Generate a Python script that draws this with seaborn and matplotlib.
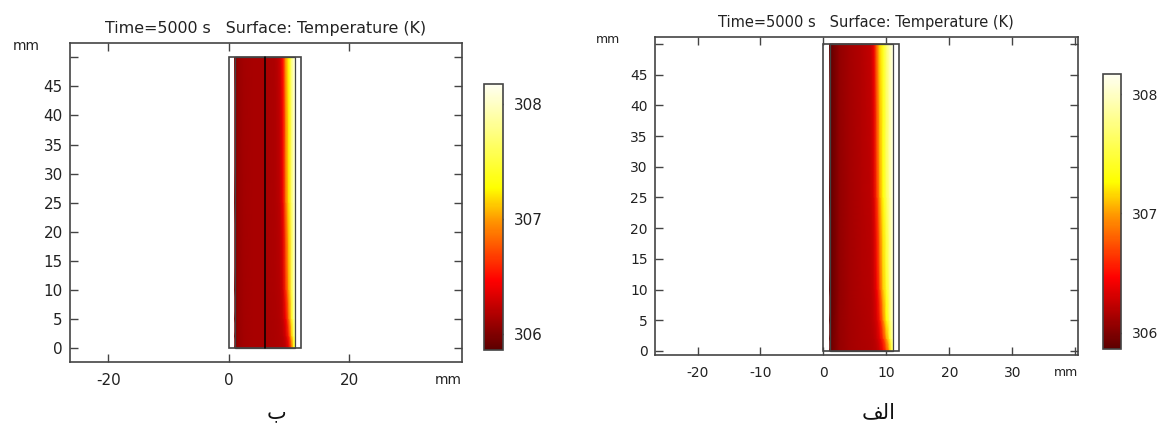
import numpy as np
import matplotlib
matplotlib.use("Agg")
import matplotlib.pyplot as plt
from matplotlib.colors import LinearSegmentedColormap
from matplotlib.patches import Rectangle
import seaborn as sns

sns.set_style("ticks")
plt.rcParams["font.family"] = ["DejaVu Sans"]

x_mm = [1, 1.5, 2.5, 4, 6, 7.5, 8, 8.5, 9, 9.5, 10, 10.5, 10.8, 11]
y_mm = [0, 2, 5, 10, 25, 50]

# panel ب (left), temperature in K, one row per y_mm
temp_b = [
    [306.00, 306.08, 306.13, 306.14, 306.14, 306.15, 306.16, 306.17, 306.18, 306.22, 306.38, 306.85, 307.25, 307.50],
    [306.00, 306.08, 306.13, 306.14, 306.14, 306.15, 306.16, 306.17, 306.20, 306.30, 306.58, 307.15, 307.55, 307.80],
    [306.00, 306.08, 306.13, 306.14, 306.14, 306.15, 306.16, 306.18, 306.24, 306.42, 306.85, 307.42, 307.78, 307.95],
    [306.00, 306.08, 306.13, 306.14, 306.14, 306.16, 306.17, 306.19, 306.29, 306.62, 307.04, 307.58, 307.88, 308.00],
    [306.00, 306.08, 306.13, 306.14, 306.14, 306.16, 306.18, 306.22, 306.39, 306.85, 307.20, 307.70, 307.95, 308.02],
    [306.00, 306.08, 306.13, 306.14, 306.14, 306.16, 306.19, 306.26, 306.50, 307.00, 307.28, 307.80, 308.00, 308.05],
]
# panel الف (right)
temp_alef = [
    [305.89, 305.96, 306.07, 306.13, 306.15, 306.17, 306.19, 306.21, 306.28, 306.42, 306.68, 307.05, 307.42, 307.65],
    [305.89, 305.96, 306.07, 306.13, 306.16, 306.18, 306.20, 306.26, 306.38, 306.62, 306.98, 307.40, 307.70, 307.88],
    [305.88, 305.95, 306.07, 306.13, 306.16, 306.19, 306.23, 306.32, 306.55, 306.90, 307.25, 307.62, 307.85, 307.97],
    [305.87, 305.94, 306.06, 306.13, 306.17, 306.20, 306.26, 306.42, 306.75, 307.12, 307.40, 307.72, 307.92, 308.02],
    [305.87, 305.94, 306.06, 306.13, 306.18, 306.22, 306.32, 306.62, 307.02, 307.30, 307.58, 307.85, 307.98, 308.08],
    [305.87, 305.94, 306.06, 306.13, 306.18, 306.24, 306.40, 306.85, 307.18, 307.40, 307.68, 307.93, 308.03, 308.12],
]

t_min, t_max = 305.86, 308.17
cbar_ticks = [306, 307, 308]
title = "Time=5000 s   Surface: Temperature (K)"

# geometry (mm)
outer_w, inner_x0, inner_x1, height = 12, 1, 11, 50
divider_x = 6  # only in panel ب

cmap = LinearSegmentedColormap.from_list(
    "thermal_light",
    [(0.0, "#5c0000"), (0.26, "#ff0000"), (0.49, "#ff9900"),
     (0.61, "#ffff00"), (1.0, "#fffff2")])

line_c = "#444444"


def draw_panel(ax, cax, temp, xlim, ylim, xticks, xlabels, fs, divider=False):
    X, Y = np.meshgrid(x_mm, y_mm)
    mesh = ax.pcolormesh(X, Y, np.array(temp), shading="gouraud", cmap=cmap,
                         vmin=t_min, vmax=t_max, zorder=1)
    ax.add_patch(Rectangle((0, 0), outer_w, height, fill=False, ec=line_c, lw=1.2, zorder=3))
    ax.add_patch(Rectangle((inner_x0, 0), inner_x1 - inner_x0, height, fill=False,
                           ec=line_c, lw=0.9, zorder=3))
    if divider:
        ax.plot([divider_x, divider_x], [0, height], color="black", lw=1.1, zorder=4)
    ax.set_xlim(*xlim)
    ax.set_ylim(*ylim)
    ax.set_xticks(xticks)
    ax.set_xticklabels(xlabels)
    ax.set_yticks(range(0, 51, 5))
    ax.set_yticklabels([str(v) for v in range(0, 46, 5)] + [""])
    ax.tick_params(direction="in", top=True, right=True, length=6, width=1,
                   color=line_c, labelsize=fs, labelcolor="#222222")
    ax.tick_params(axis="x", pad=8)
    ax.tick_params(axis="y", pad=5)
    for s in ax.spines.values():
        s.set_color(line_c)
        s.set_linewidth(1.2)
        s.set_visible(True)
    ax.set_title(title, fontsize=fs * 1.05, pad=7, color="#222222")
    ax.text(-0.11, 0.99, "mm", transform=ax.transAxes, fontsize=fs * 0.9, ha="center",
            va="center", color="#222222")
    ax.text(1.0, -0.055, "mm", transform=ax.transAxes, fontsize=fs * 0.9, ha="right",
            va="center", color="#222222")

    cb = ax.figure.colorbar(mesh, cax=cax)
    cb.set_ticks(cbar_ticks)
    cb.ax.tick_params(direction="in", left=True, right=True, length=3, width=1,
                      color="#333333", labelsize=fs, labelcolor="#222222", pad=8)
    cb.outline.set_edgecolor(line_c)
    cb.outline.set_linewidth(1.2)


fig = plt.figure(figsize=(11.6, 4.25), dpi=100)
ax_b = fig.add_axes([0.0601, 0.148, 0.338, 0.752])
cax_b = fig.add_axes([0.4172, 0.1765, 0.0166, 0.626])
ax_a = fig.add_axes([0.5644, 0.1647, 0.3647, 0.749])
cax_a = fig.add_axes([0.9511, 0.178, 0.01526, 0.648])

draw_panel(ax_b, cax_b, temp_b, (-26.4, 38.7), (-2.45, 52.56),
           [-20, 0, 20], ["-20", "0", "20"], fs=10.9, divider=True)
draw_panel(ax_a, cax_a, temp_alef, (-26.8, 40.4), (-0.66, 51.2),
           [-20, -10, 0, 10, 20, 30, 40], ["-20", "-10", "0", "10", "20", "30", ""], fs=10)

# panel captions (Persian); alef-lam-feh given in joined presentation forms, visual order
fig.text(277 / 1160, 0.03, "\u0628", fontsize=15, ha="center", va="center", color="#111111")
fig.text(879 / 1160, 0.03, "\ufed2\ufedf\ufe8d", fontsize=15, ha="center", va="center",
         color="#111111")

fig.savefig("out.png", dpi=100)
